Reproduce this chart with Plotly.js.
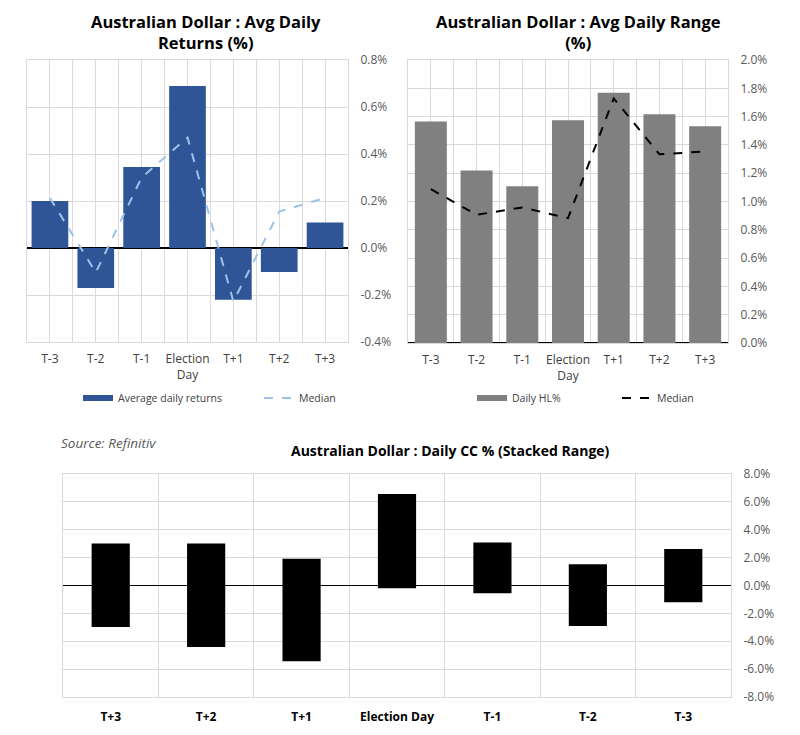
<!DOCTYPE html>
<html>
<head>
<meta charset="utf-8">
<script src="https://cdn.plot.ly/plotly-3.0.1.min.js"></script>
<style>html,body{margin:0;padding:0;background:#fff;}#chart{width:800px;height:735px;}</style>
</head>
<body>
<div id="chart"></div>
<script>
// ---- data ----
const categories = ['T-3', 'T-2', 'T-1', 'Election Day', 'T+1', 'T+2', 'T+3'];
const topTickLabels = ['T-3', 'T-2', 'T-1', 'Election<br>Day', 'T+1', 'T+2', 'T+3'];

const avgReturns = [0.20, -0.17, 0.345, 0.689, -0.22, -0.102, 0.109];
const medianReturns = [0.213, -0.104, 0.30, 0.47, -0.227, 0.155, 0.213];

const dailyHL = [1.565, 1.219, 1.108, 1.574, 1.769, 1.616, 1.532];
const medianHL = [1.087, 0.906, 0.958, 0.882, 1.729, 1.334, 1.353];

const ccCategories = ['T+3', 'T+2', 'T+1', 'Election Day', 'T-1', 'T-2', 'T-3'];
const ccHigh = [3.02, 3.02, 1.92, 6.57, 3.09, 1.53, 2.61];
const ccLow = [-2.97, -4.41, -5.44, -0.19, -0.55, -2.90, -1.20];

const retTickVals = [-0.4, -0.2, 0, 0.2, 0.4, 0.6, 0.8];
const retTickText = ['-0.4%', '-0.2%', '0.0%', '0.2%', '0.4%', '0.6%', '0.8%'];
const hlTickVals = [0, 0.2, 0.4, 0.6, 0.8, 1.0, 1.2, 1.4, 1.6, 1.8, 2.0];
const hlTickText = ['0.0%', '0.2%', '0.4%', '0.6%', '0.8%', '1.0%', '1.2%', '1.4%', '1.6%', '1.8%', '2.0%'];
const ccTickVals = [-8, -6, -4, -2, 0, 2, 4, 6, 8];
const ccTickText = ['-8.0%', '-6.0%', '-4.0%', '-2.0%', '0.0%', '2.0%', '4.0%', '6.0%', '8.0%'];

// ---- build ----
const idx = categories.map((c, i) => i);
const W = 800, H = 735;
const px = v => v / W;
const py = v => 1 - v / H;
const GRID = '#D9D9D9';
const FONT = 'Open Sans, Noto Sans, sans-serif';

const traces = [
  { type: 'bar', x: idx, y: avgReturns, xaxis: 'x', yaxis: 'y', width: 0.8,
    marker: { color: '#2F5597' }, name: 'Average daily returns', showlegend: false, hoverinfo: 'y' },
  { type: 'scatter', mode: 'lines', x: idx, y: medianReturns, xaxis: 'x', yaxis: 'y',
    line: { color: '#9DC3E6', dash: 'dash', width: 2 }, name: 'Median', showlegend: false },
  { type: 'scatter', mode: 'lines', x: [null], y: [null], xaxis: 'x', yaxis: 'y',
    line: { color: '#2F5597', width: 6 }, name: 'Average daily returns', legend: 'legend' },
  { type: 'scatter', mode: 'lines', x: [null], y: [null], xaxis: 'x', yaxis: 'y',
    line: { color: '#9DC3E6', dash: 'dash', width: 2 }, name: 'Median', legend: 'legend' },

  { type: 'bar', x: idx, y: dailyHL, xaxis: 'x2', yaxis: 'y2', width: 0.7,
    marker: { color: '#808080' }, name: 'Daily HL%', showlegend: false },
  { type: 'scatter', mode: 'lines', x: idx, y: medianHL, xaxis: 'x2', yaxis: 'y2',
    line: { color: '#000000', dash: 'dash', width: 2 }, name: 'Median', showlegend: false },
  { type: 'scatter', mode: 'lines', x: [null], y: [null], xaxis: 'x2', yaxis: 'y2',
    line: { color: '#808080', width: 6 }, name: 'Daily HL%', legend: 'legend2' },
  { type: 'scatter', mode: 'lines', x: [null], y: [null], xaxis: 'x2', yaxis: 'y2',
    line: { color: '#000000', dash: 'dash', width: 2 }, name: 'Median', legend: 'legend2' },

  { type: 'bar', x: ccCategories, y: ccHigh, xaxis: 'x3', yaxis: 'y3', width: 0.4,
    marker: { color: '#000000' }, name: 'High', showlegend: false },
  { type: 'bar', x: ccCategories, y: ccLow, xaxis: 'x3', yaxis: 'y3', width: 0.4,
    marker: { color: '#000000' }, name: 'Low', showlegend: false }
];

function topX(domain) {
  return {
    domain: domain, range: [-0.5, 6.5], tickmode: 'array', tickvals: idx, ticktext: topTickLabels,
    showgrid: true, gridcolor: GRID, gridwidth: 1, zeroline: false,
    minor: { tick0: 0.5, dtick: 1, showgrid: true, gridcolor: GRID, gridwidth: 1, ticks: '' },
    showline: true, mirror: true, linecolor: GRID, linewidth: 1,
    ticks: 'outside', ticklen: 6, tickcolor: 'rgba(0,0,0,0)',
    tickfont: { family: FONT, size: 12, color: '#404040' }, fixedrange: true
  };
}
function rightY(domain, range, vals, text, anchor) {
  return {
    domain: domain, range: range, side: 'right', anchor: anchor, tickmode: 'array', tickvals: vals, ticktext: text,
    showgrid: true, gridcolor: GRID, gridwidth: 1,
    zeroline: true, zerolinecolor: '#000000', zerolinewidth: 1.5,
    showline: true, mirror: true, linecolor: GRID, linewidth: 1,
    ticks: 'outside', ticklen: 9, tickcolor: 'rgba(0,0,0,0)',
    tickfont: { family: FONT, size: 12, color: '#595959' }, fixedrange: true
  };
}

const layout = {
  width: W, height: H,
  margin: { l: 0, r: 0, t: 0, b: 0 },
  paper_bgcolor: '#ffffff', plot_bgcolor: '#ffffff',
  barmode: 'relative',
  xaxis: Object.assign(topX([px(27), px(348)]), { anchor: 'y' }),
  yaxis: rightY([py(342), py(60)], [-0.4, 0.8], retTickVals, retTickText, 'x'),
  xaxis2: Object.assign(topX([px(408), px(728)]), { anchor: 'y2' }),
  yaxis2: rightY([py(343), py(60)], [0, 2.0], hlTickVals, hlTickText, 'x2'),
  xaxis3: {
    domain: [px(63), px(731)], anchor: 'y3', type: 'category', categoryorder: 'array', categoryarray: ccCategories,
    tickson: 'boundaries', showgrid: true, gridcolor: GRID, gridwidth: 1,
    showline: true, mirror: true, linecolor: GRID, linewidth: 1,
    ticks: '', ticklabelstandoff: 9,
    tickfont: { family: FONT, size: 12, color: '#000000', weight: 'bold' }, fixedrange: true
  },
  yaxis3: rightY([py(697), py(474)], [-8, 8], ccTickVals, ccTickText, 'x3'),
  legend: {
    orientation: 'h', x: px(78), y: py(398), xanchor: 'left', yanchor: 'middle',
    bgcolor: 'rgba(0,0,0,0)', entrywidth: 136, itemclick: false,
    font: { family: FONT, size: 10.5, color: '#404040' }
  },
  legend2: {
    orientation: 'h', x: px(472), y: py(398), xanchor: 'left', yanchor: 'middle',
    bgcolor: 'rgba(0,0,0,0)', entrywidth: 100, itemclick: false,
    font: { family: FONT, size: 10.5, color: '#404040' }
  },
  annotations: [
    { text: 'Australian Dollar : Avg Daily<br>Returns (%)', xref: 'paper', yref: 'paper',
      x: px(206), y: py(32), xanchor: 'center', yanchor: 'middle', showarrow: false,
      font: { family: FONT, size: 16.5, color: '#000000', weight: 'bold' } },
    { text: 'Australian Dollar : Avg Daily Range<br>(%)', xref: 'paper', yref: 'paper',
      x: px(578), y: py(32), xanchor: 'center', yanchor: 'middle', showarrow: false,
      font: { family: FONT, size: 16.5, color: '#000000', weight: 'bold' } },
    { text: 'Australian Dollar : Daily CC % (Stacked Range)', xref: 'paper', yref: 'paper',
      x: px(450), y: py(450), xanchor: 'center', yanchor: 'middle', showarrow: false,
      font: { family: FONT, size: 14, color: '#000000', weight: 'bold' } },
    { text: '<i>Source: Refinitiv</i>', xref: 'paper', yref: 'paper',
      x: px(59), y: py(443), xanchor: 'left', yanchor: 'middle', showarrow: false,
      font: { family: FONT, size: 13.5, color: '#595959' } }
  ]
};

Plotly.newPlot('chart', traces, layout, { displayModeBar: false, staticPlot: true });
</script>
</body>
</html>
